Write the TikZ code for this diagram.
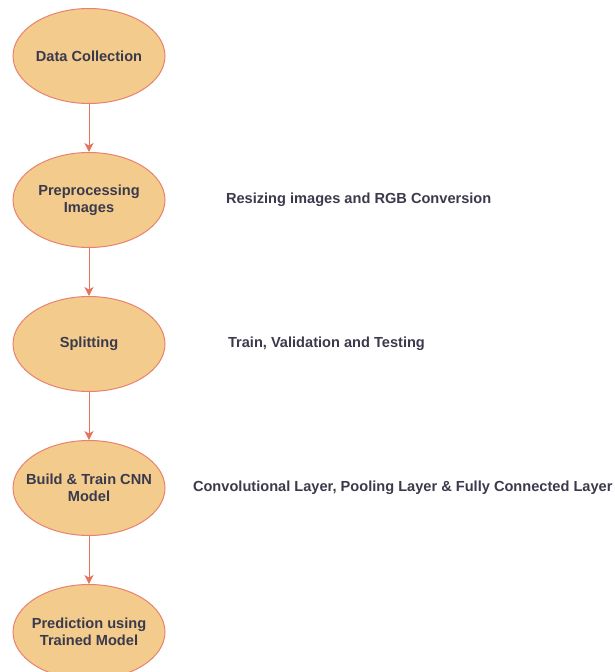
\documentclass[tikz,border=0pt]{standalone}
\usepackage{fontspec}
\setmainfont{Liberation Sans}
\usetikzlibrary{arrows.meta}
\usetikzlibrary{positioning,shapes}
\usepackage{xcolor}
\definecolor{stagefill}{HTML}{F3CB8D}
\definecolor{stageline}{HTML}{E8826C}
\definecolor{flowline}{HTML}{E5735A}
\definecolor{labeltext}{HTML}{3A3A4C}

\begin{document}
\begin{tikzpicture}[%
        every node/.style={font=\bfseries\fontsize{14.6}{17}\selectfont, text=labeltext, align=center},
        stage/.style={ellipse, draw=stageline, fill=stagefill, line width=1pt,
                      minimum width=152pt, minimum height=95pt, inner xsep=-12pt, inner ysep=0pt},
        note/.style={anchor=west},
        node distance=48pt, >={Stealth[length=9pt,width=9pt,inset=2.5pt]}
      ]
      \useasboundingbox (0,0) rectangle (614pt,-672pt);
      \node [stage] (s0) at (89pt,-56pt) {Data Collection};
      \node [stage] (s1) [below=of s0] {Preprocessing\\Images};
      \node [stage] (s2) [below=of s1] {Splitting};
      \node [stage] (s3) [below=of s2] {Build \& Train CNN\\Model};
      \node [stage] (s4) [below=of s3] {Prediction using\\Trained Model};
      \node [note] (n1) [right=57pt of s1] {Resizing images and RGB Conversion};
      \node [note] (n2) [right=59pt of s2] {Train, Validation and Testing};
      \node [note] (n3) [right=24pt of s3] {Convolutional Layer, Pooling Layer \& Fully Connected Layer};
      \path [draw, flowline, line width=1pt] (s0) edge[->] (s1)
      (s1) edge[->] (s2)
      (s2) edge[->] (s3)
      (s3) edge[->] (s4);
    \end{tikzpicture}
\end{document}
